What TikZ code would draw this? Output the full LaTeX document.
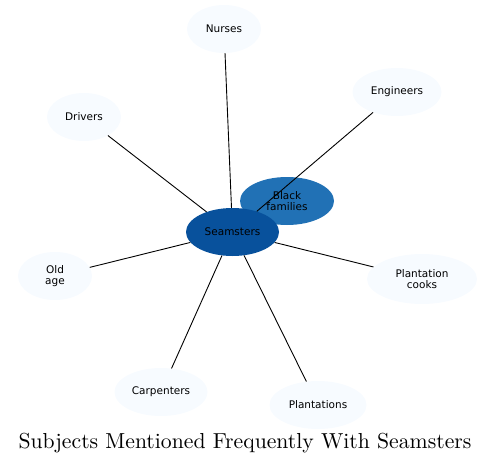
\documentclass[tikz,border=0pt]{standalone}
\usepackage{fontspec}
\newfontfamily\labelfont{DejaVu Sans}
\newfontfamily\titlefont{lmroman10-regular.otf}
\usepackage{tikz}
\usetikzlibrary{shapes.geometric}

\definecolor{leafblue}{HTML}{F7FBFF}
\definecolor{hubblue}{HTML}{08519C}
\definecolor{midblue}{HTML}{2171B5}

\tikzset{
  subject/.style={ellipse, fill=leafblue, inner sep=0pt, minimum height=48pt,
    align=center, font=\labelfont\fontsize{10.5}{11}\selectfont},
  link/.style={black, line width=0.9pt}
}

\begin{document}
\begin{tikzpicture}[x=1pt, y=-1pt]
\useasboundingbox (0,0) rectangle (497,465);

% second ring under the hub
\node[subject, fill=midblue, minimum width=94pt] (black) at (287,201) {Black\\families};

% hub
\node[subject, fill=hubblue, minimum width=93pt] (seam) at (232.5,232) {Seamsters};

% outer subjects
\node[subject, minimum width=74pt] (nurses) at (224,29) {Nurses};
\node[subject, minimum width=89pt] (eng) at (397,92) {Engineers};
\node[subject, minimum width=74pt] (drivers) at (84,117) {Drivers};
\node[subject, minimum width=74pt] (old) at (55,276) {Old\\age};
\node[subject, minimum width=110pt, minimum height=50pt] (cooks) at (422,279) {Plantation\\cooks};
\node[subject, minimum width=93pt] (carp) at (161,392) {Carpenters};
\node[subject, minimum width=97pt] (plant) at (318,405) {Plantations};

% links from the hub
\draw[link] (seam) -- (nurses);
\draw[link] (seam) -- (eng);
\draw[link] (seam) -- (drivers);
\draw[link] (seam) -- (old);
\draw[link] (seam) -- (cooks);
\draw[link] (seam) -- (carp);
\draw[link] (seam) -- (plant);

% title
\node[font=\titlefont\fontsize{21.7}{26}\selectfont] (title) at (245,443) {Subjects Mentioned Frequently With Seamsters};

\end{tikzpicture}
\end{document}
